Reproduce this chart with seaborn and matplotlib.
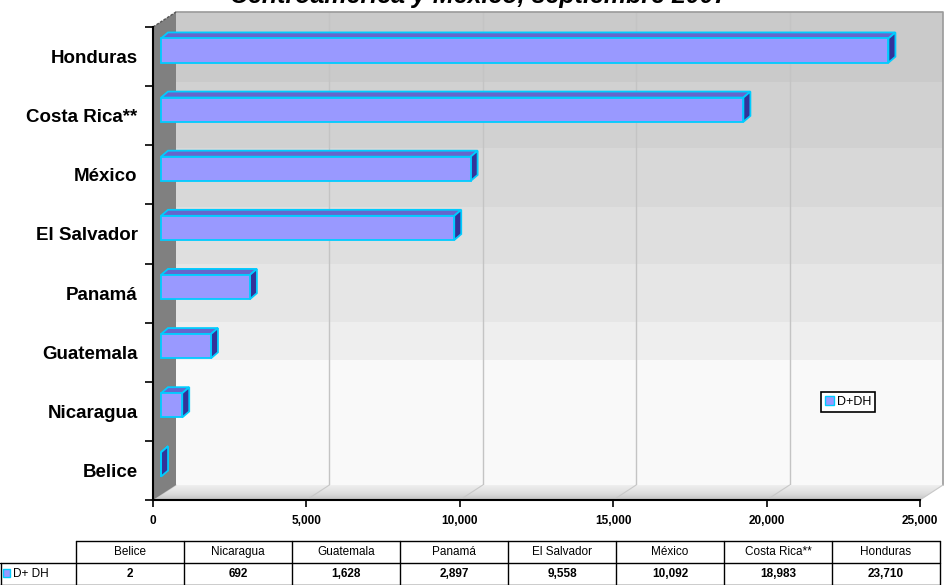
import numpy as np
import pandas as pd
import matplotlib
matplotlib.use("Agg")
import matplotlib.pyplot as plt
import matplotlib.transforms as mtransforms
from matplotlib.patches import Polygon, Rectangle, Patch
from matplotlib.lines import Line2D
import seaborn as sns

# ---------------- data ----------------
paises = ["Belice", "Nicaragua", "Guatemala", "Panamá", "El Salvador",
          "México", "Costa Rica**", "Honduras"]
valores = [2, 692, 1628, 2897, 9558, 10092, 18983, 23710]
serie = "D+DH"
serie_tabla = "D+ DH"
x_ticks = [0, 5000, 10000, 15000, 20000, 25000]
titulo = "Centroamérica y México, septiembre 2007"

# ---------------- style ----------------
sns.set_theme(style="white")
plt.rcParams["font.family"] = ["Liberation Sans", "DejaVu Sans"]
plt.rcParams["text.color"] = "black"
plt.rcParams["xtick.color"] = "black"
plt.rcParams["ytick.color"] = "black"

W, H, DPI = 944, 585, 100
fig = plt.figure(figsize=(W / DPI, H / DPI), dpi=DPI)
fig.patch.set_facecolor("white")

# transform in image pixels (origin top-left)
pix = mtransforms.Affine2D().scale(1 / W, -1 / H).translate(0, 1) + fig.transFigure


def fx(px):
    return px / W


def fy(py):
    return 1 - py / H


# front plane of the plot
L, R, T, B = 153, 920, 27, 500
WDX, WDY = 23, 15      # wall depth
BDX, BDY = 8, 6        # bar front offset
DDX, DDY = 7, 6        # bar depth

BAR_FACE = "#9999ff"
BAR_TOP = "#6666cc"
BAR_SIDE = "#333399"
BAR_EDGE = "#00ccff"

ax = fig.add_axes([fx(L), fy(B), fx(R) - fx(L), (B - T) / H])
ax.set_facecolor("none")
ax.set_zorder(3)

df = pd.DataFrame({"pais": paises, "valor": valores})
order = paises[::-1]
sns.barplot(data=df, x="valor", y="pais", order=order, orient="h",
            color=BAR_FACE, saturation=1, edgecolor=BAR_EDGE, linewidth=1.3,
            width=0.41, ax=ax, zorder=6)
bars = list(ax.patches)

ax.set_xlim(0, 25000)
ax.set_ylim(len(order) - 0.5, -0.5)
ax.set_xlabel("")
ax.set_ylabel("")
ax.set_xticks(x_ticks)
ax.set_xticklabels([f"{t:,}" for t in x_ticks], fontsize=8.5, fontweight="bold",
                   color="black")
ax.set_yticks(range(len(order)))
ax.set_yticklabels(order, fontsize=13.5, fontweight="bold", color="black")
ax.set_yticks(np.arange(-0.5, len(order)), minor=True)
ax.tick_params(axis="x", which="major", length=5, width=1.2, pad=6,
               direction="out", color="black", bottom=True)
ax.tick_params(axis="y", which="major", length=0, pad=11, left=True)
ax.tick_params(axis="y", which="minor", length=6, width=1.2,
               direction="out", color="black", left=True)
for s in ["top", "right"]:
    ax.spines[s].set_visible(False)
for s in ["left", "bottom"]:
    ax.spines[s].set_color("black")
    ax.spines[s].set_linewidth(1.5)
    ax.spines[s].set_zorder(8)


def to_px(x, y):
    return pix.inverted().transform(ax.transData.transform((x, y)))


# ---------------- back plane ----------------
bx0, by0, bx1, by1 = L + WDX, T - WDY, R + WDX, B - WDY
band_tops = [by0, 82, 148, 207, 264, 322, 360]
band_cols = ["#cacaca", "#d1d1d1", "#d8d8d8", "#dfdfdf", "#e6e6e6", "#eeeeee", "#f9f9f9"]
edges = band_tops + [by1]
for i, c in enumerate(band_cols):
    fig.add_artist(Rectangle((bx0, edges[i]), bx1 - bx0, edges[i + 1] - edges[i],
                             transform=pix, facecolor=c, edgecolor="none", zorder=0.1))
for t in x_ticks[1:-1]:
    xp = to_px(t, 0)[0] + WDX
    fig.add_artist(Line2D([xp, xp], [by0, by1], transform=pix, color="#c4c4c4",
                          lw=1, zorder=0.5))
fig.add_artist(Line2D([bx0, bx1, bx1], [by0, by0, by1], transform=pix,
                      color="#9a9a9a", lw=1.2, zorder=0.5))

# floor (gradient strips)
nstrip = 14
cback = np.array([0.94, 0.94, 0.94])
cfront = np.array([0.74, 0.74, 0.74])
for k in range(nstrip):
    f0, f1 = k / nstrip, (k + 1) / nstrip
    c = cback + (cfront - cback) * (f0 + f1) / 2
    pts = [(bx0 - WDX * f0, by1 + WDY * f0), (bx1 - WDX * f0, by1 + WDY * f0),
           (bx1 - WDX * f1, by1 + WDY * f1), (bx0 - WDX * f1, by1 + WDY * f1)]
    fig.add_artist(Polygon(pts, closed=True, transform=pix, facecolor=c,
                           edgecolor="none", zorder=1))
for t in x_ticks:
    xp = to_px(t, 0)[0]
    fig.add_artist(Line2D([xp, xp + WDX], [B, B - WDY], transform=pix,
                          color="#c8c8c8", lw=0.8, zorder=1.2))

# left wall
wall = [(L, T), (L + WDX, T - WDY), (L + WDX, B - WDY), (L, B)]
fig.add_artist(Polygon(wall, closed=True, transform=pix, facecolor="#808080",
                       edgecolor="none", zorder=1.5))
fig.add_artist(Line2D([L, L + WDX], [T, T - WDY], transform=pix,
                      color="#555555", lw=1, ls=(0, (2, 1)), zorder=1.6))

# ---------------- 3D bars ----------------
for p in bars:
    x0, y0 = p.get_x(), p.get_y()
    w, h = p.get_width(), p.get_height()
    a = to_px(x0, y0)
    b = to_px(x0 + w, y0 + h)
    xl, xr = min(a[0], b[0]) + BDX, max(a[0], b[0]) + BDX
    yt, yb = min(a[1], b[1]) - BDY, max(a[1], b[1]) - BDY
    top = [(xl, yt), (xr, yt), (xr + DDX, yt - DDY), (xl + DDX, yt - DDY)]
    side = [(xr, yt), (xr, yb), (xr + DDX, yb - DDY), (xr + DDX, yt - DDY)]
    ax.add_artist(Polygon(top, closed=True, transform=pix, facecolor=BAR_TOP,
                          edgecolor=BAR_EDGE, lw=1.3, zorder=4, clip_on=False))
    ax.add_artist(Polygon(side, closed=True, transform=pix, facecolor=BAR_SIDE,
                          edgecolor=BAR_EDGE, lw=1.3, zorder=4, clip_on=False))
    p.set_transform(ax.transData + mtransforms.ScaledTranslation(
        BDX / DPI, BDY / DPI, fig.dpi_scale_trans))
    p.set_clip_on(False)

# ---------------- legend ----------------
leg = fig.legend(handles=[Patch(facecolor=BAR_FACE, edgecolor=BAR_EDGE, label=serie)],
                 loc="upper left", bbox_to_anchor=(fx(821), fy(392)),
                 frameon=True, fancybox=False, fontsize=9, handlelength=0.7,
                 handleheight=0.7, borderpad=0.3, handletextpad=0.3,
                 borderaxespad=0, labelcolor="black")
leg.get_frame().set_edgecolor("black")
leg.get_frame().set_linewidth(1.2)
leg.get_frame().set_alpha(1)
leg.set_zorder(10)

# ---------------- title (cut at the top, as in the reference) ----------------
fig.text(479, 3, titulo, transform=pix, ha="center", va="baseline",
         fontsize=18, fontweight="bold", fontstyle="italic", color="black")

# ---------------- data table ----------------
C0, CW = 76, 108
Y0, Y1, Y2 = 541, 563, 585
n = len(paises)
lk = dict(transform=pix, color="black", lw=1, zorder=5)
fig.add_artist(Line2D([C0, C0 + CW * n], [Y0, Y0], **lk))
fig.add_artist(Line2D([0, C0 + CW * n], [Y1, Y1], **lk))
fig.add_artist(Line2D([0, C0 + CW * n], [Y2 - 0.5, Y2 - 0.5], **lk))
fig.add_artist(Line2D([0.5, 0.5], [Y1, Y2], **lk))
for i in range(n + 1):
    xc = C0 + CW * i
    fig.add_artist(Line2D([xc, xc], [Y0, Y2], **lk))
for i, (name, v) in enumerate(zip(paises, valores)):
    xm = C0 + CW * i + CW / 2
    fig.text(xm, (Y0 + Y1) / 2, name, transform=pix, ha="center", va="center",
             fontsize=8.5, color="black")
    fig.text(xm, (Y1 + Y2) / 2, f"{v:,}", transform=pix, ha="center", va="center",
             fontsize=8.5, fontweight="bold", color="black")
fig.add_artist(Rectangle((3, 569), 7, 8, transform=pix, facecolor=BAR_FACE,
                         edgecolor=BAR_EDGE, lw=1, zorder=5))
fig.text(13, (Y1 + Y2) / 2, serie_tabla, transform=pix, ha="left", va="center",
         fontsize=8.5, color="black")

fig.savefig("out.png", dpi=DPI, facecolor="white")
